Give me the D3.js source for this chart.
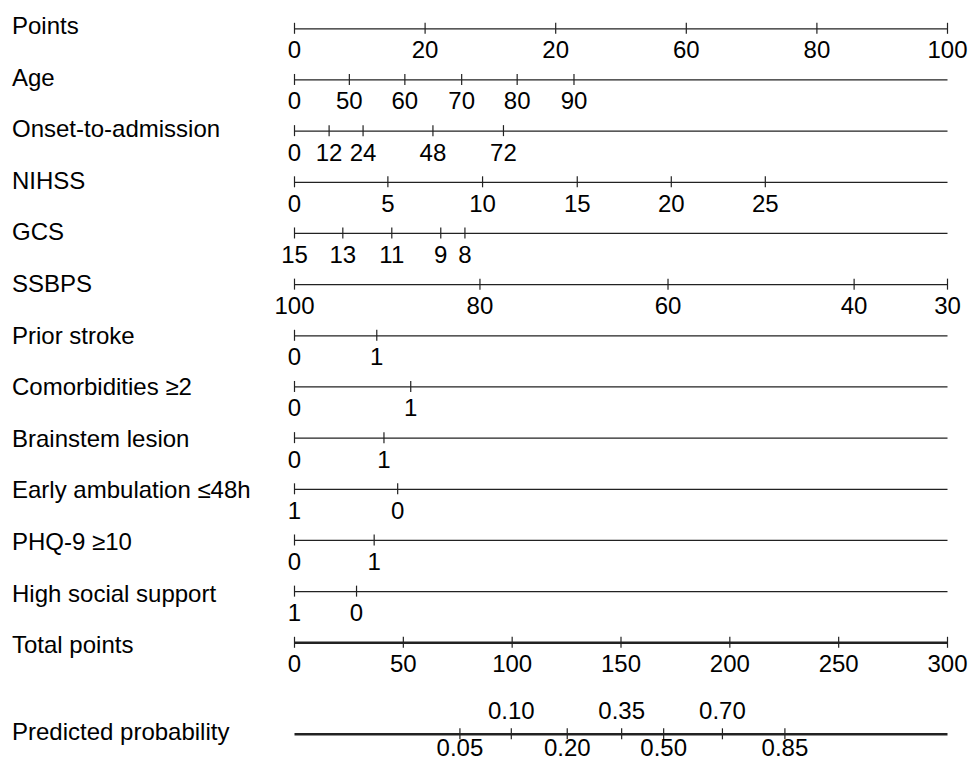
<!DOCTYPE html>
<html>
<head>
<meta charset="utf-8">
<script src="https://cdn.jsdelivr.net/npm/d3@7/dist/d3.min.js"></script>
<style>
  html, body { margin: 0; padding: 0; background: #fff; }
  svg text { font-family: "Liberation Sans", Arial, sans-serif; fill: #000; }
</style>
</head>
<body>
<svg id="nomo" width="969" height="762"></svg>
<script>
// Predictor names, top to bottom
const rowLabels = [
  "Points", "Age", "Onset-to-admission", "NIHSS", "GCS", "SSBPS",
  "Prior stroke", "Comorbidities \u22652", "Brainstem lesion",
  "Early ambulation \u226448h", "PHQ-9 \u226510", "High social support"
];

// Tick labels of each scale and where they sit on the 0-100 points scale
const pointsLabels = ["0", "20", "20", "60", "80", "100"];
const pointsPos    = [0, 20, 40, 60, 80, 100];

const ageLabels = ["0", "50", "60", "70", "80", "90"];
const agePos    = [0, 8.4, 16.9, 25.6, 34.1, 42.8];

const onsetLabels = ["0", "12", "24", "48", "72"];
const onsetPos    = [0, 5.3, 10.5, 21.2, 32.0];

const nihssLabels = ["0", "5", "10", "15", "20", "25"];
const nihssPos    = [0, 14.3, 28.8, 43.3, 57.7, 72.1];

const gcsLabels = ["15", "13", "11", "9", "8"];
const gcsPos    = [0, 7.4, 14.9, 22.4, 26.1];

const ssbpsLabels = ["100", "80", "60", "40", "30"];
const ssbpsPos    = [0, 28.4, 57.2, 85.7, 100];

const priorLabels = ["0", "1"];
const priorPos    = [0, 12.6];

const comorbLabels = ["0", "1"];
const comorbPos    = [0, 17.8];

const brainstemLabels = ["0", "1"];
const brainstemPos    = [0, 13.7];

const ambulationLabels = ["1", "0"];
const ambulationPos    = [0, 15.8];

const phqLabels = ["0", "1"];
const phqPos    = [0, 12.2];

const socialLabels = ["1", "0"];
const socialPos    = [0, 9.5];

const totalLabels = ["0", "50", "100", "150", "200", "250", "300"];
const totalPos    = [0, 50, 100, 150, 200, 250, 300];

const probLabels = ["0.05", "0.10", "0.20", "0.35", "0.50", "0.70", "0.85"];
const probPos    = [76.0, 99.6, 125.3, 150.3, 169.6, 196.6, 225.3];

const rowTicks = [
  [pointsLabels, pointsPos], [ageLabels, agePos], [onsetLabels, onsetPos],
  [nihssLabels, nihssPos], [gcsLabels, gcsPos], [ssbpsLabels, ssbpsPos],
  [priorLabels, priorPos], [comorbLabels, comorbPos], [brainstemLabels, brainstemPos],
  [ambulationLabels, ambulationPos], [phqLabels, phqPos], [socialLabels, socialPos]
];

const svg = d3.select("#nomo");
const fontSize = 24;
const x0 = 294, x1 = 947;

const pointsScale = d3.scaleLinear().domain([0, 100]).range([x0, x1]);
const totalScale  = d3.scaleLinear().domain([0, 300]).range([x0, x1]);

// vertical placement of axis lines and of the row names
const lineY  = d3.scaleLinear().domain([0, 12]).range([28.3, 642.3]);
const labelY = d3.scaleLinear().domain([0, 12]).range([34, 653.3]);
const probLineY = 733.8;

function styleAxis(g, width, labelOffset) {
  g.attr("font-size", null).attr("font-family", null);
  g.select(".domain").attr("stroke", "#222").attr("stroke-width", width);
  g.selectAll(".tick line")
    .attr("stroke", "#222").attr("stroke-width", 1.2)
    .attr("y1", -5.5).attr("y2", 5.5);
  g.selectAll(".tick text")
    .attr("font-size", fontSize)
    .attr("fill", "#000")
    .attr("dy", null)
    .attr("y", labelOffset);
}

// predictor rows on the points scale
rowTicks.forEach(([labels, pos], i) => {
  const g = svg.append("g")
    .attr("transform", `translate(0,${lineY(i)})`)
    .call(d3.axisBottom(pointsScale)
      .tickValues(pos)
      .tickFormat((d, k) => labels[k])
      .tickSizeOuter(0));
  styleAxis(g, 1.2, 30);
  svg.append("text")
    .attr("x", 12).attr("y", labelY(i))
    .attr("font-size", fontSize)
    .text(rowLabels[i]);
});

// total points
const gTotal = svg.append("g")
  .attr("transform", `translate(0,${lineY(12)})`)
  .call(d3.axisBottom(totalScale)
    .tickValues(totalPos)
    .tickFormat((d, k) => totalLabels[k])
    .tickSizeOuter(0));
styleAxis(gTotal, 2.4, 30);
svg.append("text")
  .attr("x", 12).attr("y", labelY(12))
  .attr("font-size", fontSize)
  .text("Total points");

// predicted probability, labels alternating above and below the line
const gProb = svg.append("g")
  .attr("transform", `translate(0,${probLineY})`)
  .call(d3.axisBottom(totalScale)
    .tickValues(probPos)
    .tickFormat((d, k) => probLabels[k])
    .tickSizeOuter(0));
styleAxis(gProb, 2.4, 22);
gProb.selectAll(".tick text")
  .attr("y", (d, k) => k % 2 === 1 ? -15 : 22);
svg.append("text")
  .attr("x", 12).attr("y", 740)
  .attr("font-size", fontSize)
  .text("Predicted probability");
</script>
</body>
</html>
